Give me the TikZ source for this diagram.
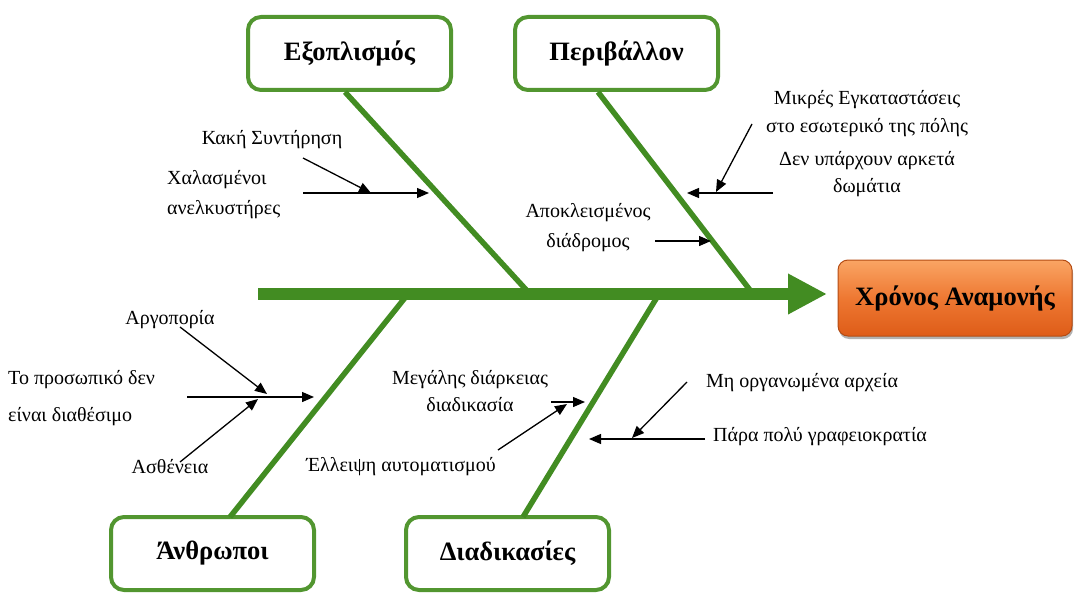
\documentclass[tikz,border=0pt]{standalone}
\usepackage{fontspec}
\setmainfont{Liberation Serif}
\usetikzlibrary{arrows.meta,shadows}

\definecolor{bonegreen}{RGB}{66,140,34}
\definecolor{boxgreen}{RGB}{82,150,48}
\definecolor{orangetop}{RGB}{250,165,100}
\definecolor{orangemid}{RGB}{238,120,50}
\definecolor{orangebot}{RGB}{222,92,24}
\definecolor{orangeedge}{RGB}{180,76,20}

\begin{document}
\begin{tikzpicture}[x=1pt,y=-1pt,
  cat/.style={draw=boxgreen, line width=4pt, rounded corners=13pt, fill=white,
    minimum width=203pt, minimum height=73pt, inner sep=0pt,
    font=\fontsize{26.5}{30}\selectfont\bfseries},
  effect/.style={draw=orangeedge, line width=1pt, rounded corners=10pt,
    top color=orangetop, bottom color=orangebot, middle color=orangemid,
    minimum width=234pt, minimum height=76pt, inner sep=0pt,
    font=\fontsize{26.5}{30}\selectfont\bfseries,
    drop shadow={shadow xshift=1pt, shadow yshift=-3pt, fill=black!60, opacity=.5}},
  bone/.style={draw=bonegreen, line width=5.5pt},
  spinestyle/.style={draw=bonegreen, line width=12pt,
    -{Triangle[length=39pt,width=38pt]}},
  cause/.style={inner sep=0pt, align=center},
  pointer/.style={draw=black, line width=1.3pt,
    -{Triangle[length=12pt,width=10pt]}},
]
\useasboundingbox (0,0) rectangle (1074,594);

% category boxes
\node[cat] (equip) at (349.5,53.5) {Εξοπλισμός};
\node[cat] (envir) at (616.5,53.5) {Περιβάλλον};
\node[cat] (people) at (212.5,553.5) {Άνθρωποι};
\node[cat] (proc) at (507.5,553.5) {Διαδικασίες};
\node[effect] (wait) at (955,298) {Χρόνος Αναμονής};

% spine and bones
\coordinate (tail) at (258,294);
\coordinate (head) at (827,294);
\coordinate (eqTop) at (345,92);
\coordinate (eqEnd) at (530,294);
\coordinate (enTop) at (598,92);
\coordinate (enEnd) at (753,294);
\coordinate (peTop) at (230,517);
\coordinate (peEnd) at (408,294);
\coordinate (prTop) at (523,517);
\coordinate (prEnd) at (659,294);

\draw[bone] (eqTop) -- (eqEnd);
\draw[bone] (enTop) -- (enEnd);
\draw[bone] (peTop) -- (peEnd);
\draw[bone] (prTop) -- (prEnd);
\draw[spinestyle] (tail) -- (head);

% equipment causes
\node[cause, font=\fontsize{20}{22}\selectfont] (maint) at (272,140) {Κακή Συντήρηση};
\node[cause, anchor=west, align=left, font=\fontsize{20}{30}\selectfont] (lifts) at (167,195)
  {Χαλασμένοι\\ανελκυστήρες};
\coordinate (liftsA) at (303,193);
\coordinate (liftsB) at (429,193);
\coordinate (maintA) at (303,158);
\coordinate (maintB) at (371,193);
\draw[pointer] (liftsA) -- (liftsB);
\draw[pointer] (maintA) -- (maintB);

% environment causes
\node[cause, font=\fontsize{20}{28}\selectfont] (small) at (867,114)
  {Μικρές Εγκαταστάσεις\\στο εσωτερικό της πόλης};
\node[cause, font=\fontsize{20}{27}\selectfont] (rooms) at (867,174)
  {Δεν υπάρχουν αρκετά\\δωμάτια};
\node[cause, font=\fontsize{20}{30}\selectfont] (corr) at (588,228)
  {Αποκλεισμένος\\διάδρομος};
\coordinate (roomsA) at (773,193);
\coordinate (roomsB) at (687,193);
\coordinate (smallA) at (752,124);
\coordinate (smallB) at (716,192);
\coordinate (corrA) at (655,241);
\coordinate (corrB) at (711,241);
\draw[pointer] (roomsA) -- (roomsB);
\draw[pointer] (smallA) -- (smallB);
\draw[pointer] (corrA) -- (corrB);

% people causes
\node[cause, font=\fontsize{20}{22}\selectfont] (delay) at (170,320) {Αργοπορία};
\node[cause, anchor=west, align=left, font=\fontsize{20}{37}\selectfont] (staff) at (8,398)
  {Το προσωπικό δεν\\είναι διαθέσιμο};
\node[cause, font=\fontsize{20}{22}\selectfont] (ill) at (170,467) {Ασθένεια};
\coordinate (staffA) at (187,397);
\coordinate (staffB) at (314,397);
\coordinate (delayA) at (180,327);
\coordinate (delayB) at (267,394);
\coordinate (illA) at (180,462);
\coordinate (illB) at (258,399);
\draw[pointer] (staffA) -- (staffB);
\draw[pointer] (delayA) -- (delayB);
\draw[pointer] (illA) -- (illB);

% procedure causes
\node[cause, font=\fontsize{20}{27}\selectfont] (long) at (470,391)
  {Μεγάλης διάρκειας\\διαδικασία};
\node[cause, font=\fontsize{20}{22}\selectfont] (auto) at (401,467) {Έλλειψη αυτοματισμού};
\node[cause, font=\fontsize{20}{22}\selectfont] (files) at (802,383) {Μη οργανωμένα αρχεία};
\node[cause, font=\fontsize{20}{22}\selectfont] (bureau) at (820,437) {Πάρα πολύ γραφειοκρατία};
\coordinate (longA) at (551,402);
\coordinate (longB) at (585,402);
\coordinate (autoA) at (498,450);
\coordinate (autoB) at (567,404);
\coordinate (bureauA) at (705,439);
\coordinate (bureauB) at (589,439);
\coordinate (filesA) at (687,382);
\coordinate (filesB) at (632,438);
\draw[pointer] (longA) -- (longB);
\draw[pointer] (autoA) -- (autoB);
\draw[pointer] (bureauA) -- (bureauB);
\draw[pointer] (filesA) -- (filesB);
\end{tikzpicture}
\end{document}
